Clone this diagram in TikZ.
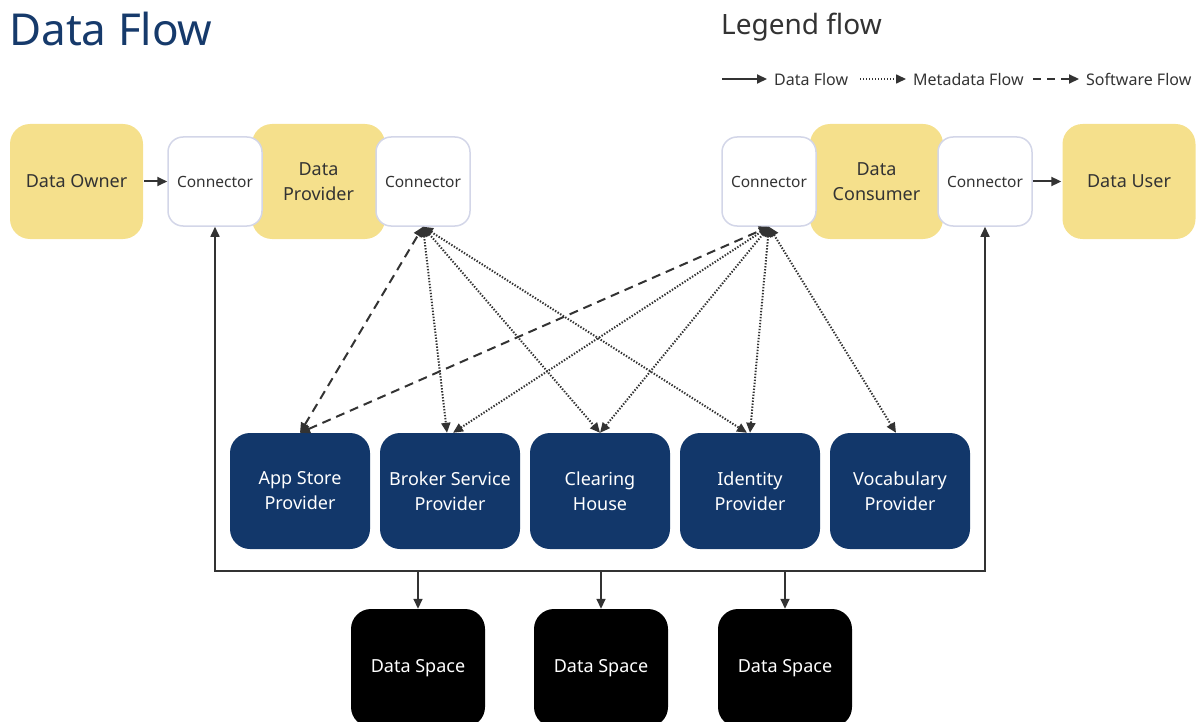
\documentclass[tikz,border=0pt]{standalone}
\usepackage{fontspec}
\setmainfont{Noto Sans}
\usetikzlibrary{arrows.meta}
\definecolor{ylw}{HTML}{F5E08C}
\definecolor{navy}{HTML}{12376A}
\definecolor{ink}{HTML}{333333}
\definecolor{conborder}{HTML}{D3D6E8}
\definecolor{titleblue}{HTML}{163A6B}
\tikzset{
  tip/.style={-{Triangle[length=10pt,width=9pt]}},
  biptip/.style={{Triangle[length=10pt,width=9pt]}-{Triangle[length=10pt,width=9pt]}},
  yellowbox/.style={fill=ylw, draw=none, rounded corners=20pt, minimum width=133pt, minimum height=115pt, align=center, text=ink, font=\fontsize{18}{25}\selectfont, inner sep=0pt},
  conbox/.style={fill=white, draw=conborder, line width=1.5pt, rounded corners=15pt, minimum width=94pt, minimum height=89pt, align=center, text=ink, font=\fontsize{15.5}{20}\selectfont, inner sep=0pt},
  bluebox/.style={fill=navy, draw=none, rounded corners=20pt, minimum width=140pt, minimum height=116pt, align=center, text=white, font=\fontsize{18}{25}\selectfont, inner sep=0pt},
  spacebox/.style={fill=black, draw=none, rounded corners=20pt, minimum width=134pt, minimum height=118pt, align=center, text=white, font=\fontsize{18}{25}\selectfont, inner sep=0pt},
  dataline/.style={draw=ink, line width=2pt},
  metaline/.style={draw=ink, line width=2pt, dash pattern=on 1.4pt off 1.6pt},
  softline/.style={draw=ink, line width=2pt, dash pattern=on 9pt off 6pt},
  legendtext/.style={text=ink, font=\fontsize{16}{19}\selectfont, anchor=west, inner sep=0pt},
}
\begin{document}
\begin{tikzpicture}[x=1pt,y=-1pt]
\useasboundingbox (0,0) rectangle (1196,722);
% titles
\node[anchor=west, inner sep=0pt, text=titleblue, font=\fontsize{44}{50}\selectfont] (title) at (9,29) {Data Flow};
\node[anchor=west, inner sep=0pt, text=ink, font=\fontsize{28}{32}\selectfont] (legtitle) at (721,27) {Legend flow};
% legend
\coordinate (l1a) at (722,79); \coordinate (l1b) at (767,79);
\draw[dataline,tip] (l1a) -- (l1b);
\node[legendtext] (lt1) at (774,79.5) {Data Flow};
\coordinate (l2a) at (860,79); \coordinate (l2b) at (906,79);
\draw[metaline,line width=1.6pt,tip] (l2a) -- (l2b);
\node[legendtext] (lt2) at (913,79.5) {Metadata Flow};
\coordinate (l3a) at (1033,79); \coordinate (l3b) at (1079,79);
\draw[softline,tip,dash pattern=on 8pt off 6pt] (l3a) -- (l3b);
\node[legendtext] (lt3) at (1086,79.5) {Software Flow};
% top row
\node[yellowbox] (owner) at (76.5,181.5) {Data Owner};
\node[yellowbox] (provider) at (318.5,181.5) {Data\\Provider};
\node[conbox] (con1) at (215,181.5) {Connector};
\node[conbox] (con2) at (423,181.5) {Connector};
\node[yellowbox] (consumer) at (876.5,181.5) {Data\\Consumer};
\node[conbox] (con3) at (769,181.5) {Connector};
\node[conbox] (con4) at (985,181.5) {Connector};
\node[yellowbox] (user) at (1129,181.5) {Data User};
% service row
\node[bluebox] (app) at (300,491) {App Store\\Provider};
\node[bluebox] (broker) at (450,491) {Broker Service\\Provider};
\node[bluebox] (clearing) at (600,491) {Clearing\\House};
\node[bluebox] (identity) at (750,491) {Identity\\Provider};
\node[bluebox] (vocab) at (900,491) {Vocabulary\\Provider};
% data spaces
\node[spacebox] (ds1) at (418,668) {Data Space};
\node[spacebox] (ds2) at (601,668) {Data Space};
\node[spacebox] (ds3) at (785,668) {Data Space};
% data flow arrows
\draw[dataline,tip] (owner.east) ++(1,0) -- (con1.west);
\draw[dataline,tip] (con4.east) -- ([xshift=-1pt]user.west);
\coordinate (busL) at (215,571);
\coordinate (busR) at (985,571);
\draw[dataline,biptip,line width=1.6pt] (con1.south) -- (busL) -- (busR) -- (con4.south);
\draw[dataline,tip,line width=1.6pt] (ds1.north |- busL) -- (ds1.north);
\draw[dataline,tip,line width=1.6pt] (ds2.north |- busL) -- (ds2.north);
\draw[dataline,tip,line width=1.6pt] (ds3.north |- busL) -- (ds3.north);
% software flow
\draw[softline,biptip] (app.north) -- (con2.south);
\draw[softline,biptip] (app.north) -- (con3.south);
% metadata flow
\draw[metaline,biptip] (con2.south) -- ([xshift=-3pt]broker.north);
\draw[metaline,biptip] (con2.south) -- (clearing.north);
\draw[metaline,biptip] (con2.south) -- ([xshift=-3pt]identity.north);
\draw[metaline,biptip] (con3.south) -- ([xshift=3pt]broker.north);
\draw[metaline,biptip] (con3.south) -- (clearing.north);
\draw[metaline,biptip] (con3.south) -- (identity.north);
\draw[metaline,biptip] (con3.south) -- ([xshift=-4pt]vocab.north);
\end{tikzpicture}
\end{document}
